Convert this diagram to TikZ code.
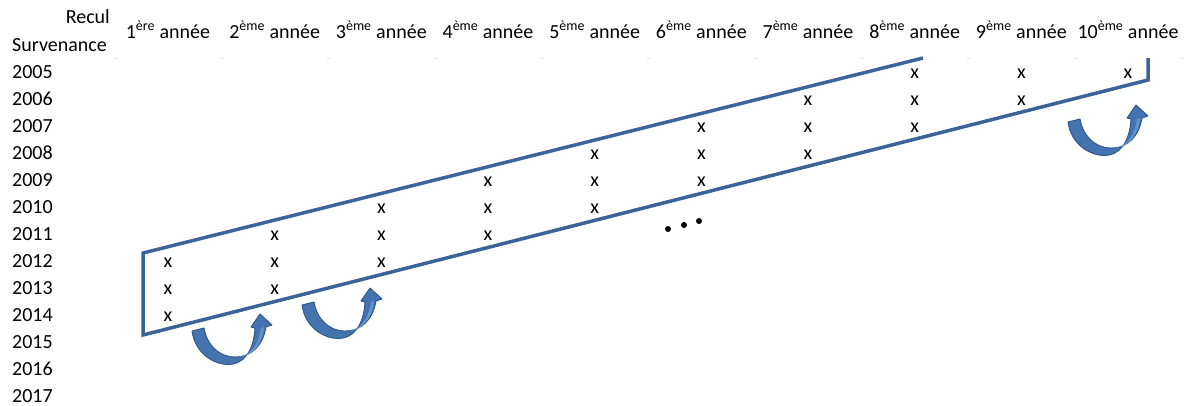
\documentclass[tikz,border=0pt]{standalone}
\usepackage{fontspec}
\setmainfont{Carlito}
\definecolor{framecol}{HTML}{3A6397}
\definecolor{arrfill}{HTML}{4474B0}
\definecolor{arrdark}{HTML}{2E5688}
\definecolor{arrlight}{HTML}{6494CC}
\newcommand\uturnarrow[2]{%
  \begin{scope}[shift={(#1,#2)}]
    \fill[arrfill, draw=arrdark, line width=0.9pt, line join=round]
      (0,0) .. controls (3,23) and (24,36) .. (41,33)
      .. controls (56,30) and (62,14) .. (63,-3)
      -- (59,-4) -- (68,-17) -- (80,-6) -- (74,-4)
      .. controls (71,14) and (60,26) .. (43,26)
      .. controls (27,26) and (15,14) .. (12,-3) -- cycle;
    \fill[arrlight] (48,26) .. controls (60,23) and (67,12) .. (69,-3)
      -- (72,-4) .. controls (70,14) and (60,25) .. (48,26) -- cycle;
  \end{scope}}
\begin{document}
\begin{tikzpicture}[x=1pt,y=-1pt,
  txt/.style={font=\fontsize{20}{24}\selectfont, inner sep=0pt, anchor=base}]
\useasboundingbox (0,0) rectangle (1192,405);
% faint cell borders
\foreach \k in {0,...,10}
  \draw[gray!25, line width=0.8pt] ({115+106.667*\k-1.5},58) -- ++(3,0);
% headers
\node[txt, anchor=base east] (recul) at (110,23) {Recul};
\node[txt, anchor=base west] (surv) at (12,51) {Survenance};
\foreach \j/\s in {1/ère,2/ème,3/ème,4/ème,5/ème,6/ème,7/ème,8/ème,9/ème,10/ème}
  \node[txt] (h\j) at ({168+(\j-1)*106.667},38) {\j\textsuperscript{\s} année};
% years
\foreach \i in {0,...,12}{
  \pgfmathtruncatemacro\yr{2005+\i}
  \node[txt, anchor=base west] (y\i) at (12,{78+27*\i}) {\yr};
}
% marks
\foreach \i in {0,...,9}{
  \foreach \k in {0,1,2}{
    \pgfmathtruncatemacro\c{10-\i-\k}
    \ifnum\c>0
      \node[txt] (m\i-\k) at ({168+(\c-1)*106.667},{78+27*\i}) {x};
    \fi
  }
}
% parallelogram
\draw[framecol, line width=3.5pt, line join=miter]
  (923,58) -- (143,253) -- (143,335) -- (1148,80) -- (1148,58);
% dots
\fill (668,229) circle (3);
\fill (684,225) circle (3);
\fill (699,221) circle (3);
% arrows
\uturnarrow{192}{331}
\uturnarrow{302}{305}
\uturnarrow{1068}{122}
\end{tikzpicture}
\end{document}
